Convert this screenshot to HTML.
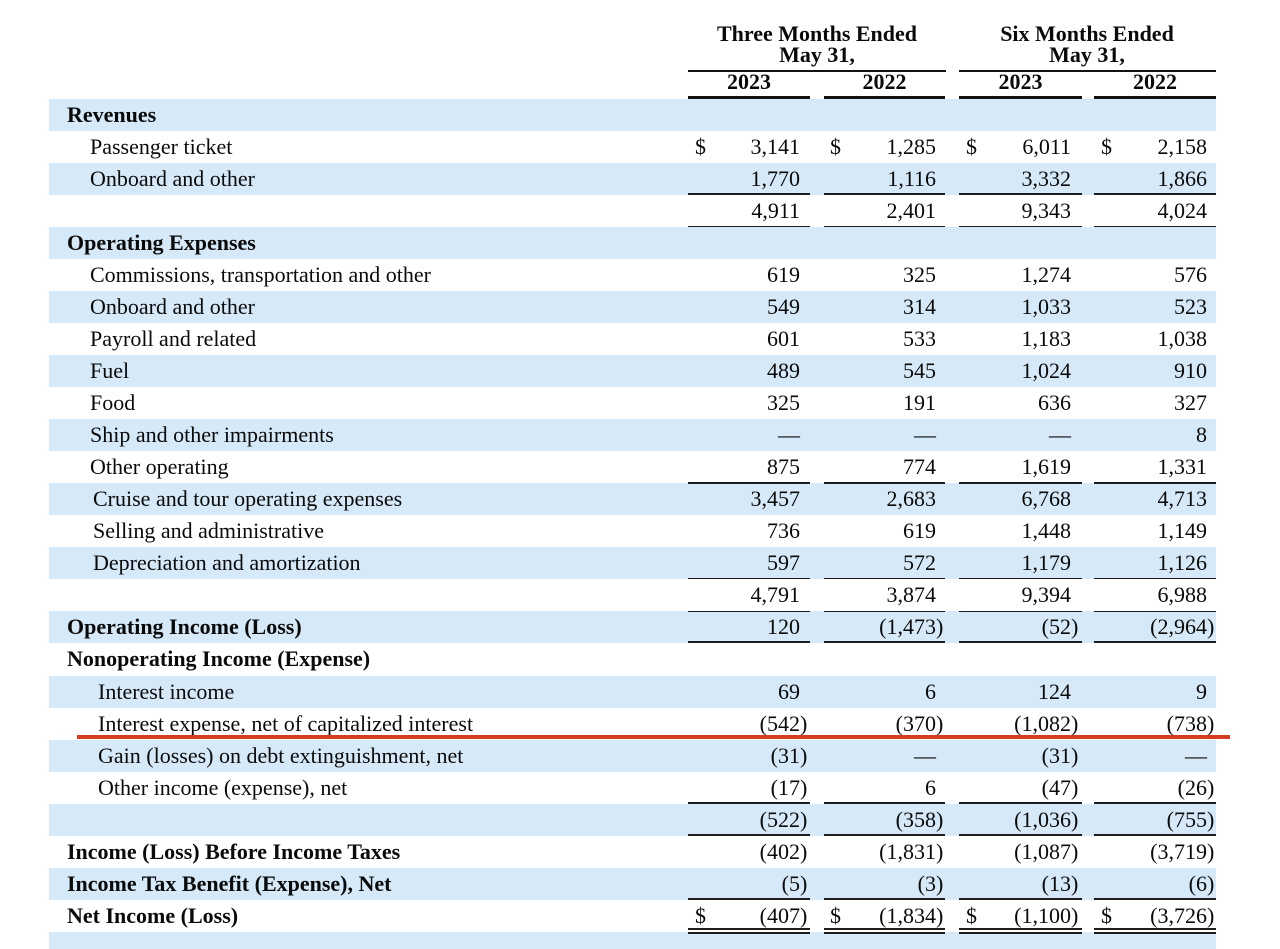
<!DOCTYPE html>
<html><head><meta charset="utf-8">
<style>
html{margin:0;padding:0;width:1280px;height:949px;overflow:hidden;}
body{margin:0;padding:0;background:#fff;width:1280px;height:949px;position:relative;overflow:hidden;font-family:"Liberation Serif","Times New Roman",serif;font-size:22px;color:#0a0a0a;}
.r{position:absolute;left:49px;width:1167px;height:32.05px;line-height:32.05px;}
.b{background:#d5e9f8;}
.l{position:absolute;top:0;white-space:nowrap;}
.h{font-weight:bold;left:18px;}
.i1{left:41px;}.i2{left:44px;}.i3{left:49px;}
.n{position:absolute;top:0;white-space:nowrap;}
.n i{position:absolute;left:100%;top:0;font-style:normal;}
.c1{right:416px}.c2{right:280px}.c3{right:145px}.c4{right:9px}
.d{position:absolute;top:0;}
.d1{left:646px}.d2{left:781px}.d3{left:917px}.d4{left:1052px}
.ln{position:absolute;height:1.6px;background:#1e1e1e;}
.k1{left:688px;width:122px}.k2{left:824px;width:121px}.k3{left:959px;width:123px}.k4{left:1094px;width:122px}
.hd{position:absolute;font-weight:bold;line-height:21px;text-align:center;white-space:nowrap;}
.hl{position:absolute;height:2.6px;background:#111;}
</style></head><body>

<!-- headers -->
<div class="hd" style="left:667px;width:300px;top:22.8px;">Three Months Ended</div>
<div class="hd" style="left:667px;width:300px;top:43.8px;">May 31,</div>
<div class="hd" style="left:937px;width:300px;top:22.8px;">Six Months Ended</div>
<div class="hd" style="left:937px;width:300px;top:43.8px;">May 31,</div>
<div class="hl" style="left:688px;width:258px;top:69.8px;"></div>
<div class="hl" style="left:959px;width:257px;top:69.8px;"></div>
<div class="hd" style="left:699px;width:100px;top:71px;">2023</div>
<div class="hd" style="left:834.5px;width:100px;top:71px;">2022</div>
<div class="hd" style="left:970.5px;width:100px;top:71px;">2023</div>
<div class="hd" style="left:1105px;width:100px;top:71px;">2022</div>
<div class="hl k1" style="top:96.2px;"></div>
<div class="hl k2" style="top:96.2px;"></div>
<div class="hl k3" style="top:96.2px;"></div>
<div class="hl k4" style="top:96.2px;"></div>

<!-- rows -->
<div class="r b" style="top:98.6px"><span class="l h">Revenues</span></div>
<div class="r" style="top:130.65px"><span class="l i1">Passenger ticket</span>
<span class="d d1">$</span><span class="n c1">3,141</span><span class="d d2">$</span><span class="n c2">1,285</span><span class="d d3">$</span><span class="n c3">6,011</span><span class="d d4">$</span><span class="n c4">2,158</span></div>
<div class="r b" style="top:162.7px"><span class="l i1">Onboard and other</span>
<span class="n c1">1,770</span><span class="n c2">1,116</span><span class="n c3">3,332</span><span class="n c4">1,866</span></div>
<div class="r" style="top:194.75px">
<span class="n c1">4,911</span><span class="n c2">2,401</span><span class="n c3">9,343</span><span class="n c4">4,024</span></div>
<div class="r b" style="top:226.8px"><span class="l h">Operating Expenses</span></div>
<div class="r" style="top:258.85px"><span class="l i1">Commissions, transportation and other</span>
<span class="n c1">619</span><span class="n c2">325</span><span class="n c3">1,274</span><span class="n c4">576</span></div>
<div class="r b" style="top:290.9px"><span class="l i1">Onboard and other</span>
<span class="n c1">549</span><span class="n c2">314</span><span class="n c3">1,033</span><span class="n c4">523</span></div>
<div class="r" style="top:322.95px"><span class="l i1">Payroll and related</span>
<span class="n c1">601</span><span class="n c2">533</span><span class="n c3">1,183</span><span class="n c4">1,038</span></div>
<div class="r b" style="top:355px"><span class="l i1">Fuel</span>
<span class="n c1">489</span><span class="n c2">545</span><span class="n c3">1,024</span><span class="n c4">910</span></div>
<div class="r" style="top:387.05px"><span class="l i1">Food</span>
<span class="n c1">325</span><span class="n c2">191</span><span class="n c3">636</span><span class="n c4">327</span></div>
<div class="r b" style="top:419.1px"><span class="l i1">Ship and other impairments</span>
<span class="n c1">—</span><span class="n c2">—</span><span class="n c3">—</span><span class="n c4">8</span></div>
<div class="r" style="top:451.15px"><span class="l i1">Other operating</span>
<span class="n c1">875</span><span class="n c2">774</span><span class="n c3">1,619</span><span class="n c4">1,331</span></div>
<div class="r b" style="top:483.2px"><span class="l i2">Cruise and tour operating expenses</span>
<span class="n c1">3,457</span><span class="n c2">2,683</span><span class="n c3">6,768</span><span class="n c4">4,713</span></div>
<div class="r" style="top:515.25px"><span class="l i2">Selling and administrative</span>
<span class="n c1">736</span><span class="n c2">619</span><span class="n c3">1,448</span><span class="n c4">1,149</span></div>
<div class="r b" style="top:547.3px"><span class="l i2">Depreciation and amortization</span>
<span class="n c1">597</span><span class="n c2">572</span><span class="n c3">1,179</span><span class="n c4">1,126</span></div>
<div class="r" style="top:579.35px">
<span class="n c1">4,791</span><span class="n c2">3,874</span><span class="n c3">9,394</span><span class="n c4">6,988</span></div>
<div class="r b" style="top:611.4px"><span class="l h">Operating Income (Loss)</span>
<span class="n c1">120</span><span class="n c2">(1,473<i>)</i></span><span class="n c3">(52<i>)</i></span><span class="n c4">(2,964<i>)</i></span></div>
<div class="r" style="top:643.45px"><span class="l h">Nonoperating Income (Expense)</span></div>
<div class="r b" style="top:675.5px"><span class="l i3">Interest income</span>
<span class="n c1">69</span><span class="n c2">6</span><span class="n c3">124</span><span class="n c4">9</span></div>
<div class="r" style="top:707.55px"><span class="l i3">Interest expense, net of capitalized interest</span>
<span class="n c1">(542<i>)</i></span><span class="n c2">(370<i>)</i></span><span class="n c3">(1,082<i>)</i></span><span class="n c4">(738<i>)</i></span></div>
<div class="r b" style="top:739.6px"><span class="l i3">Gain (losses) on debt extinguishment, net</span>
<span class="n c1">(31<i>)</i></span><span class="n c2">—</span><span class="n c3">(31<i>)</i></span><span class="n c4">—</span></div>
<div class="r" style="top:771.65px"><span class="l i3">Other income (expense), net</span>
<span class="n c1">(17<i>)</i></span><span class="n c2">6</span><span class="n c3">(47<i>)</i></span><span class="n c4">(26<i>)</i></span></div>
<div class="r b" style="top:803.7px">
<span class="n c1">(522<i>)</i></span><span class="n c2">(358<i>)</i></span><span class="n c3">(1,036<i>)</i></span><span class="n c4">(755<i>)</i></span></div>
<div class="r" style="top:835.75px"><span class="l h">Income (Loss) Before Income Taxes</span>
<span class="n c1">(402<i>)</i></span><span class="n c2">(1,831<i>)</i></span><span class="n c3">(1,087<i>)</i></span><span class="n c4">(3,719<i>)</i></span></div>
<div class="r b" style="top:867.8px"><span class="l h">Income Tax Benefit (Expense), Net</span>
<span class="n c1">(5<i>)</i></span><span class="n c2">(3<i>)</i></span><span class="n c3">(13<i>)</i></span><span class="n c4">(6<i>)</i></span></div>
<div class="r" style="top:899.85px"><span class="l h">Net Income (Loss)</span>
<span class="d d1">$</span><span class="n c1">(407<i>)</i></span><span class="d d2">$</span><span class="n c2">(1,834<i>)</i></span><span class="d d3">$</span><span class="n c3">(1,100<i>)</i></span><span class="d d4">$</span><span class="n c4">(3,726<i>)</i></span></div>
<div class="r b" style="top:931.9px;height:17.1px"></div>

<!-- single underlines -->
<div class="ln k1" style="top:193.2px"></div><div class="ln k2" style="top:193.2px"></div><div class="ln k3" style="top:193.2px"></div><div class="ln k4" style="top:193.2px"></div>
<div class="ln k1" style="top:225.9px"></div><div class="ln k2" style="top:225.9px"></div><div class="ln k3" style="top:225.9px"></div><div class="ln k4" style="top:225.9px"></div>
<div class="ln k1" style="top:482.3px"></div><div class="ln k2" style="top:482.3px"></div><div class="ln k3" style="top:482.3px"></div><div class="ln k4" style="top:482.3px"></div>
<div class="ln k1" style="top:577.8px"></div><div class="ln k2" style="top:577.8px"></div><div class="ln k3" style="top:577.8px"></div><div class="ln k4" style="top:577.8px"></div>
<div class="ln k1" style="top:610.9px"></div><div class="ln k2" style="top:610.9px"></div><div class="ln k3" style="top:610.9px"></div><div class="ln k4" style="top:610.9px"></div>
<div class="ln k1" style="top:641.2px"></div><div class="ln k2" style="top:641.2px"></div><div class="ln k3" style="top:641.2px"></div><div class="ln k4" style="top:641.2px"></div>
<div class="ln k1" style="top:802.4px"></div><div class="ln k2" style="top:802.4px"></div><div class="ln k3" style="top:802.4px"></div><div class="ln k4" style="top:802.4px"></div>
<div class="ln k1" style="top:834.3px"></div><div class="ln k2" style="top:834.3px"></div><div class="ln k3" style="top:834.3px"></div><div class="ln k4" style="top:834.3px"></div>
<div class="ln k1" style="top:898.3px"></div><div class="ln k2" style="top:898.3px"></div><div class="ln k3" style="top:898.3px"></div><div class="ln k4" style="top:898.3px"></div>
<!-- double underlines -->
<div class="ln k1" style="top:928.3px;height:1.8px"></div><div class="ln k2" style="top:928.3px;height:1.8px"></div><div class="ln k3" style="top:928.3px;height:1.8px"></div><div class="ln k4" style="top:928.3px;height:1.8px"></div>
<div class="ln k1" style="top:932.4px;height:1.8px"></div><div class="ln k2" style="top:932.4px;height:1.8px"></div><div class="ln k3" style="top:932.4px;height:1.8px"></div><div class="ln k4" style="top:932.4px;height:1.8px"></div>

<!-- red marker line -->
<div style="position:absolute;left:77px;width:1153px;top:735px;height:4px;background:#d63d20;"></div>

</body></html>
